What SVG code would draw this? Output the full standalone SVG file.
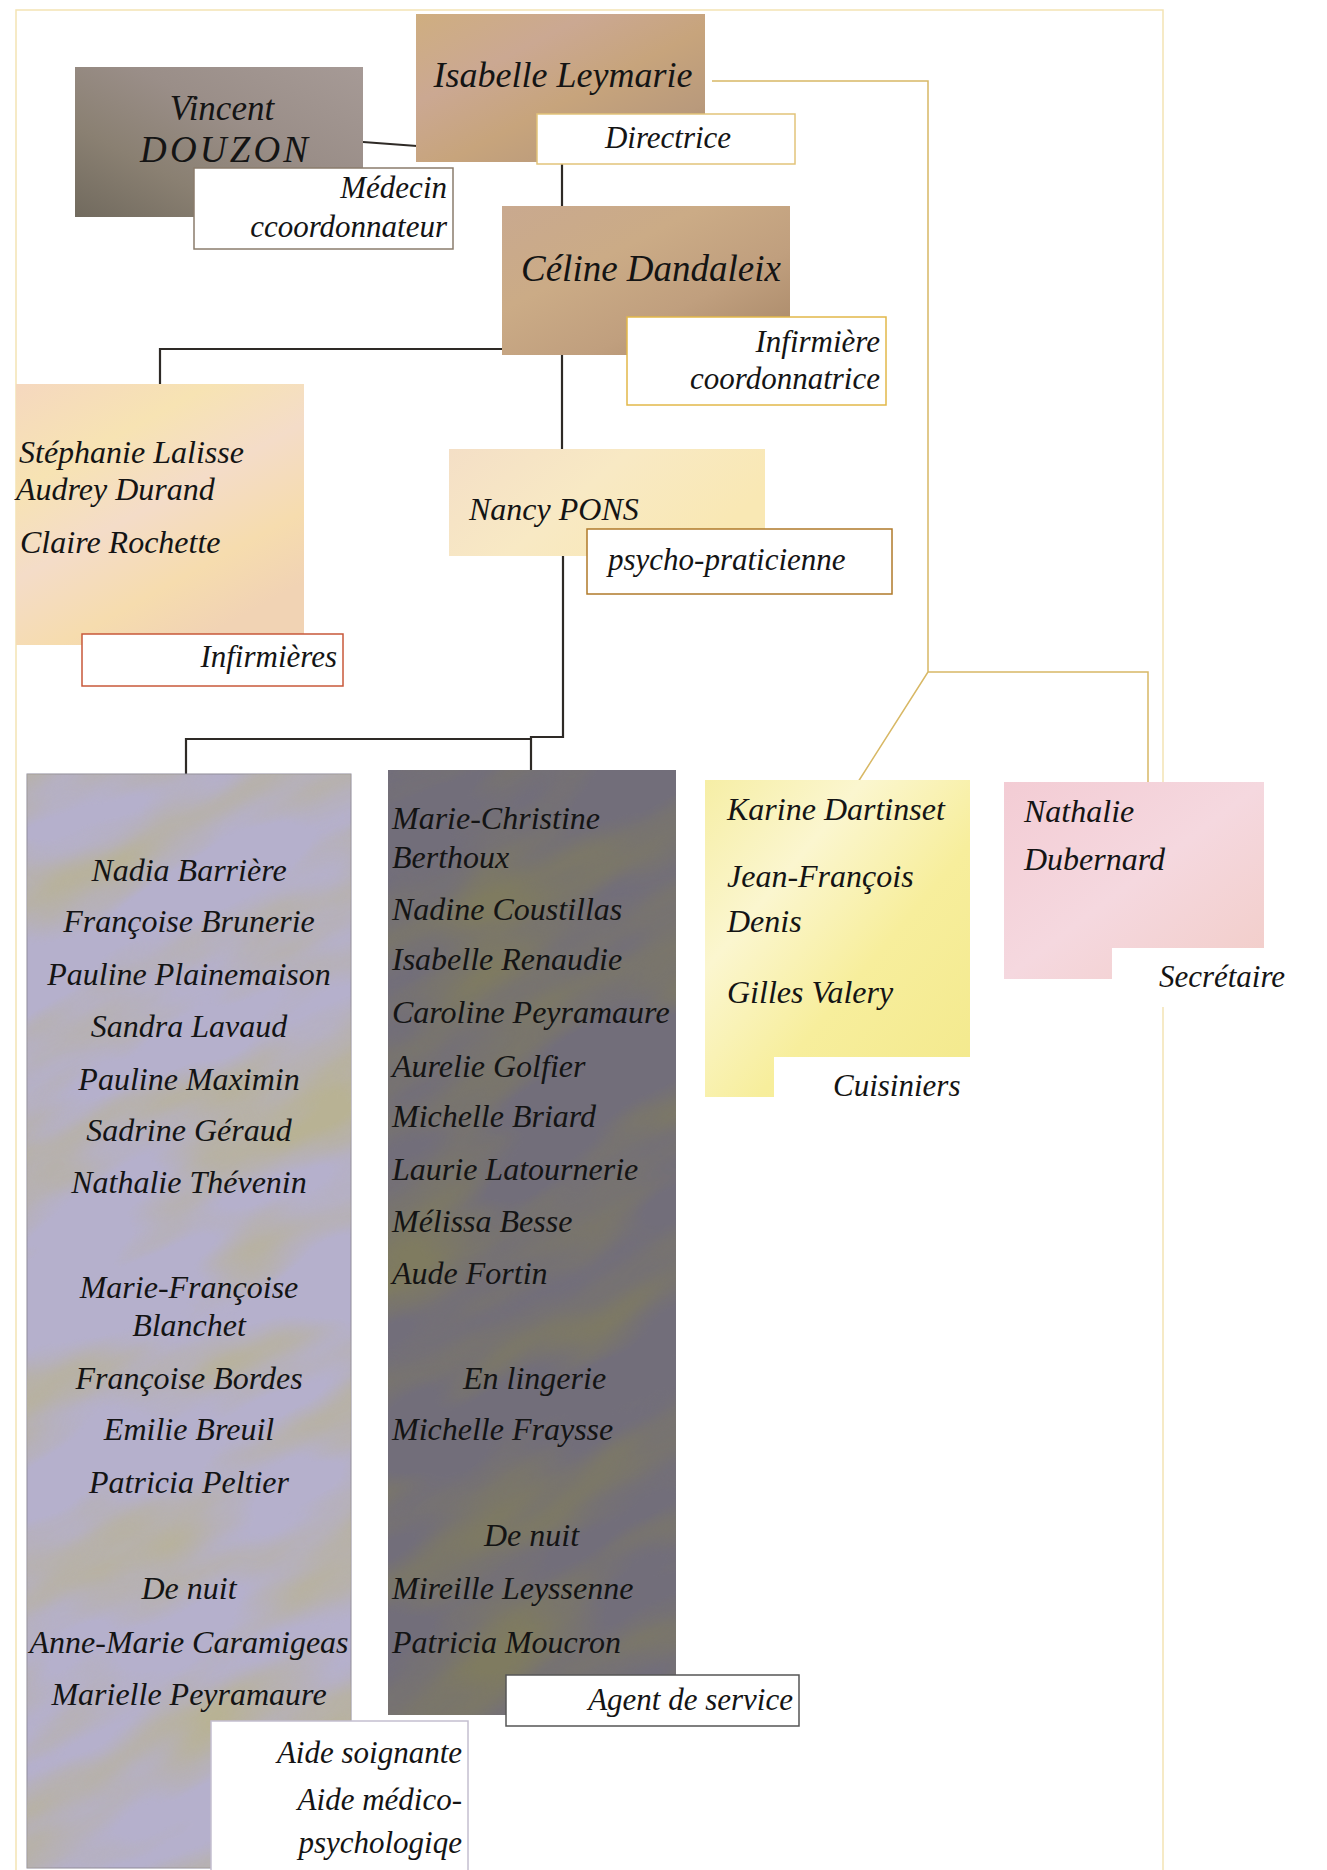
<svg xmlns="http://www.w3.org/2000/svg" width="1327" height="1870" viewBox="0 0 1327 1870">
<defs>
<style>
text{font-family:"Liberation Serif","DejaVu Serif",serif;font-style:italic;fill:#141414}
.n{font-size:32px}
.l{font-size:31px}
.mid{text-anchor:middle}
.end{text-anchor:end}
.lab{fill:#fff;stroke-width:1.5}
.dk{fill:none;stroke:#2e2a26;stroke-width:2.2}
.gd{fill:none;stroke:#d8b865;stroke-width:1.5}
.fr{fill:none;stroke:#f3e4b4;stroke-width:1.5}
</style>
<linearGradient id="gIsa" x1="0" y1="0" x2="1" y2="1">
<stop offset="0" stop-color="#cfae80"/><stop offset="0.3" stop-color="#cba892"/><stop offset="0.55" stop-color="#c7a47c"/><stop offset="0.8" stop-color="#b99a7c"/><stop offset="1" stop-color="#a88868"/>
</linearGradient>
<linearGradient id="gCel" x1="0" y1="0" x2="1" y2="1">
<stop offset="0" stop-color="#c9a98f"/><stop offset="0.35" stop-color="#cbab86"/><stop offset="0.65" stop-color="#c09f7e"/><stop offset="1" stop-color="#a68666"/>
</linearGradient>
<linearGradient id="gVin" x1="1" y1="0" x2="0" y2="1">
<stop offset="0" stop-color="#a69a96"/><stop offset="0.4" stop-color="#9a8e88"/><stop offset="0.7" stop-color="#8a8072"/><stop offset="1" stop-color="#716a5e"/>
</linearGradient>
<linearGradient id="gInf" x1="0" y1="0" x2="0.6" y2="1">
<stop offset="0" stop-color="#f5d8bf"/><stop offset="0.3" stop-color="#f7e3b3"/><stop offset="0.55" stop-color="#f4dcc8"/><stop offset="0.8" stop-color="#f6dcae"/><stop offset="1" stop-color="#f1d3b4"/>
</linearGradient>
<linearGradient id="gNan" x1="0" y1="0" x2="1" y2="0.4">
<stop offset="0" stop-color="#f4dfc6"/><stop offset="0.5" stop-color="#f8e9c4"/><stop offset="1" stop-color="#f9e8b4"/>
</linearGradient>
<linearGradient id="gCui" x1="0" y1="0" x2="1" y2="1">
<stop offset="0" stop-color="#f6eea5"/><stop offset="0.3" stop-color="#fbf6cf"/><stop offset="0.6" stop-color="#f7ee9c"/><stop offset="1" stop-color="#f3e98c"/>
</linearGradient>
<linearGradient id="gSec" x1="0" y1="0" x2="1" y2="1">
<stop offset="0" stop-color="#f3ccd4"/><stop offset="0.5" stop-color="#f5d8df"/><stop offset="1" stop-color="#f2cdc8"/>
</linearGradient>
<filter id="marb" x="0" y="0" width="1" height="1" color-interpolation-filters="sRGB">
<feTurbulence type="fractalNoise" baseFrequency="0.004 0.011" numOctaves="3" seed="7" result="n"/>
<feColorMatrix in="n" type="matrix" values="0 0 0 0 0  0 0 0 0 0  0 0 0 0 0  2.6 0 0 0 -1.05" result="a"/>
<feComposite in="SourceGraphic" in2="a" operator="in"/>
</filter>
<clipPath id="cAide"><rect x="27" y="774" width="324" height="1094"/></clipPath>
<clipPath id="cAgent"><rect x="388" y="770" width="288" height="945"/></clipPath>
</defs>
<rect x="0" y="0" width="1327" height="1870" fill="#fff"/>
<path class="fr" d="M16 1870 V10 H1163 V1870"/>

<g id="connectors">
<path class="dk" d="M363 142 L417 146"/>
<path class="dk" d="M562 162 V206"/>
<path class="dk" d="M502 349 H160 V384"/>
<path class="dk" d="M562 355 V449"/>
<path class="dk" d="M563 556 V737 H531 V770 M531 739 H186 V774"/>
<path class="gd" d="M712 81 H928 V672 L858 782 M928 672 H1148 V782"/>
</g>

<g id="isabelle">
<rect x="416" y="14" width="289" height="148" fill="url(#gIsa)"/>
<text class="mid" x="563" y="87" style="font-size:36px">Isabelle Leymarie</text>
<rect class="lab" x="537" y="114" width="258" height="50" stroke="#e2c37a"/>
<text class="l mid" x="668" y="148">Directrice</text>
</g>

<g id="vincent">
<rect x="75" y="67" width="288" height="150" fill="url(#gVin)"/>
<text class="mid" x="222" y="120" style="font-size:35px">Vincent</text>
<text class="mid" x="224" y="162" style="font-size:37px" textLength="168" lengthAdjust="spacing">DOUZON</text>
<rect class="lab" x="194" y="168" width="259" height="81" stroke="#8a7c6c"/>
<text class="l end" x="447" y="198">Médecin</text>
<text class="l end" x="447" y="237">ccoordonnateur</text>
</g>

<g id="celine">
<rect x="502" y="206" width="288" height="149" fill="url(#gCel)"/>
<text class="mid" x="651" y="281" style="font-size:37px">Céline Dandaleix</text>
<rect class="lab" x="627" y="317" width="259" height="88" stroke="#e2b84a"/>
<text class="l end" x="880" y="352">Infirmière</text>
<text class="l end" x="880" y="389">coordonnatrice</text>
</g>

<g id="infirmieres">
<rect x="16" y="384" width="288" height="261" fill="url(#gInf)"/>
<text class="n" x="19" y="463">Stéphanie Lalisse</text>
<text class="n" x="16" y="500">Audrey Durand</text>
<text class="n" x="20" y="553">Claire Rochette</text>
<rect class="lab" x="82" y="634" width="261" height="52" stroke="#c8583a"/>
<text class="l end" x="337" y="667">Infirmières</text>
</g>

<g id="nancy">
<rect x="449" y="449" width="316" height="107" fill="url(#gNan)"/>
<text class="n" x="469" y="520">Nancy PONS</text>
<rect class="lab" x="587" y="529" width="305" height="65" stroke="#b07a2a"/>
<text class="l" x="608" y="570">psycho-praticienne</text>
</g>

<g id="aide">
<rect x="27" y="774" width="324" height="1094" fill="#b5b0cc" stroke="#8e8a9a" stroke-width="1"/>
<g clip-path="url(#cAide)">
<rect x="-500" y="600" width="1400" height="1500" fill="#b8b294" filter="url(#marb)" transform="rotate(-28 190 1320)"/>
</g>
<g class="n mid">
<text x="189" y="881">Nadia Barrière</text>
<text x="189" y="932">Françoise Brunerie</text>
<text x="189" y="985">Pauline Plainemaison</text>
<text x="189" y="1037">Sandra Lavaud</text>
<text x="189" y="1090">Pauline Maximin</text>
<text x="189" y="1141">Sadrine Géraud</text>
<text x="189" y="1193">Nathalie Thévenin</text>
<text x="189" y="1298">Marie-Françoise</text>
<text x="189" y="1336">Blanchet</text>
<text x="189" y="1389">Françoise Bordes</text>
<text x="189" y="1440">Emilie Breuil</text>
<text x="189" y="1493">Patricia Peltier</text>
<text x="189" y="1599">De nuit</text>
<text x="189" y="1653">Anne-Marie Caramigeas</text>
<text x="189" y="1705">Marielle Peyramaure</text>
</g>
<rect class="lab" x="211" y="1721" width="257" height="160" stroke="#c4bfcf"/>
<text class="l end" x="462" y="1763">Aide soignante</text>
<text class="l end" x="462" y="1810">Aide médico-</text>
<text class="l end" x="462" y="1853">psychologiqe</text>
</g>

<g id="agent">
<rect x="388" y="770" width="288" height="945" fill="#726e7a"/>
<g clip-path="url(#cAgent)">
<rect x="0" y="600" width="1100" height="1300" fill="#7f7b60" filter="url(#marb)" transform="rotate(-30 530 1240)"/>
</g>
<g class="n">
<text x="392" y="829">Marie-Christine</text>
<text x="392" y="868">Berthoux</text>
<text x="392" y="920">Nadine Coustillas</text>
<text x="392" y="970">Isabelle Renaudie</text>
<text x="392" y="1023">Caroline Peyramaure</text>
<text x="392" y="1077">Aurelie Golfier</text>
<text x="392" y="1127">Michelle Briard</text>
<text x="392" y="1180">Laurie Latournerie</text>
<text x="392" y="1232">Mélissa Besse</text>
<text x="392" y="1284">Aude Fortin</text>
<text x="463" y="1389">En lingerie</text>
<text x="392" y="1440">Michelle Fraysse</text>
<text x="484" y="1546">De nuit</text>
<text x="392" y="1599">Mireille Leyssenne</text>
<text x="392" y="1653">Patricia Moucron</text>
</g>
<rect class="lab" x="506" y="1675" width="293" height="51" stroke="#555"/>
<text class="l end" x="793" y="1710">Agent de service</text>
</g>

<g id="cuisiniers">
<rect x="705" y="780" width="265" height="317" fill="url(#gCui)"/>
<g class="n">
<text x="727" y="820">Karine Dartinset</text>
<text x="727" y="887">Jean-François</text>
<text x="727" y="932">Denis</text>
<text x="727" y="1003">Gilles Valery</text>
</g>
<rect x="774" y="1057" width="241" height="53" fill="#fff"/>
<text class="l" x="833" y="1096">Cuisiniers</text>
</g>

<g id="secretaire">
<rect x="1004" y="782" width="260" height="197" fill="url(#gSec)"/>
<text class="n" x="1024" y="822">Nathalie</text>
<text class="n" x="1024" y="870">Dubernard</text>
<rect x="1112" y="948" width="215" height="59" fill="#fff"/>
<text class="l mid" x="1222" y="987">Secrétaire</text>
</g>
</svg>
